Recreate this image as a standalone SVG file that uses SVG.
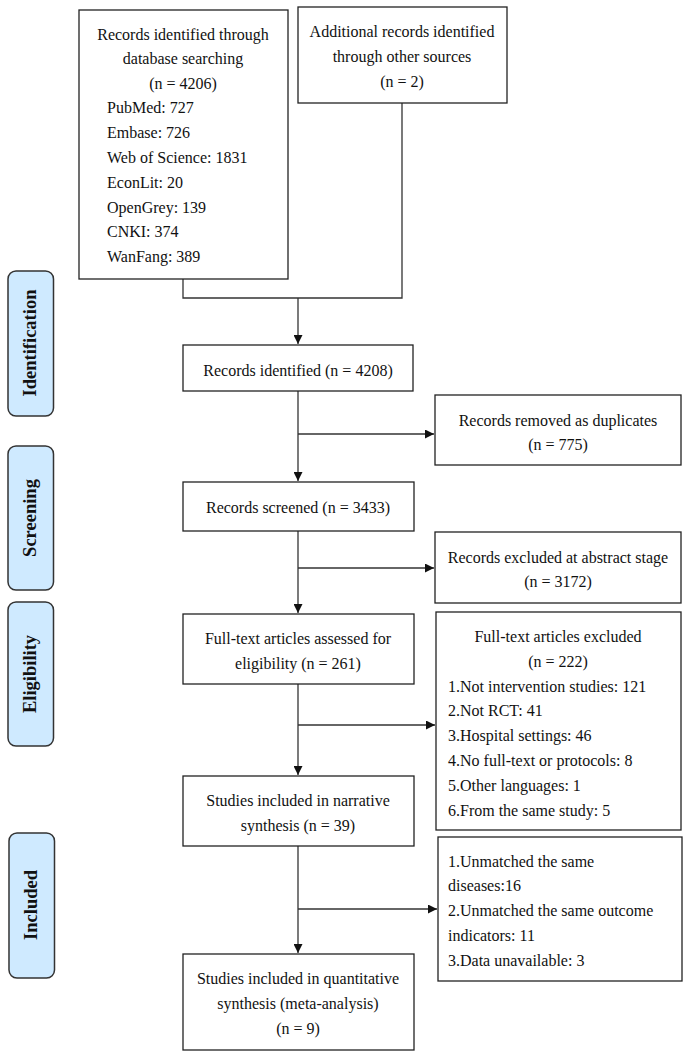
<svg xmlns="http://www.w3.org/2000/svg" width="685" height="1056" viewBox="0 0 685 1056">
<defs>
<style>
.box{fill:#fff;stroke:#222;stroke-width:1.3}
.stage{fill:#cfeaff;stroke:#333;stroke-width:1.5}
.t{font-family:"Liberation Serif","Times New Roman",serif;font-size:16px;fill:#111}
.c{text-anchor:middle}
.s{font-family:"Liberation Serif","Times New Roman",serif;font-size:18.5px;font-weight:bold;fill:#111;text-anchor:middle}
.ln{fill:none;stroke:#333;stroke-width:1.3}
</style>
<marker id="ah" viewBox="0 0 10 10" refX="10" refY="5" markerWidth="9" markerHeight="9" markerUnits="userSpaceOnUse" orient="auto">
<path d="M0,0 L10,5 L0,10 z" fill="#111"/>
</marker>
</defs>
<rect width="685" height="1056" fill="#fff"/>

<g id="stage-identification"><rect class="stage" x="8" y="271" width="45.5" height="145" rx="8"/><text class="s" transform="translate(36,343) rotate(-90)">Identification</text></g>
<g id="stage-screening"><rect class="stage" x="8" y="446" width="45.5" height="144" rx="8"/><text class="s" transform="translate(36,518) rotate(-90)">Screening</text></g>
<g id="stage-eligibility"><rect class="stage" x="8" y="602" width="45.5" height="144" rx="8"/><text class="s" transform="translate(36,674) rotate(-90)">Eligibility</text></g>
<g id="stage-included"><rect class="stage" x="9" y="833" width="45.5" height="145" rx="8"/><text class="s" transform="translate(37,905) rotate(-90)">Included</text></g>

<g id="connectors">
<path class="ln" d="M183,279 V298 H402 V103"/>
<path class="ln" d="M298,298 V344" marker-end="url(#ah)"/>
<path class="ln" d="M298,391 V481" marker-end="url(#ah)"/>
<path class="ln" d="M298,434 H434" marker-end="url(#ah)"/>
<path class="ln" d="M298,531 V613" marker-end="url(#ah)"/>
<path class="ln" d="M298,568 H434" marker-end="url(#ah)"/>
<path class="ln" d="M298,684 V775" marker-end="url(#ah)"/>
<path class="ln" d="M298,725 H435" marker-end="url(#ah)"/>
<path class="ln" d="M298,846 V953" marker-end="url(#ah)"/>
<path class="ln" d="M298,909 H437" marker-end="url(#ah)"/>
</g>

<g id="db-search">
<rect class="box" x="79" y="10" width="209" height="269"/>
<text class="t c" x="183" y="40">Records identified through</text>
<text class="t c" x="183" y="64">database searching</text>
<text class="t c" x="183" y="89">(n = 4206)</text>
<text class="t" x="107" y="113">PubMed: 727</text>
<text class="t" x="107" y="138">Embase: 726</text>
<text class="t" x="107" y="163">Web of Science: 1831</text>
<text class="t" x="107" y="188">EconLit: 20</text>
<text class="t" x="107" y="213">OpenGrey: 139</text>
<text class="t" x="107" y="237">CNKI: 374</text>
<text class="t" x="107" y="262">WanFang: 389</text>
</g>

<g id="other-sources">
<rect class="box" x="298" y="7" width="209" height="96"/>
<text class="t c" x="402" y="37">Additional records identified</text>
<text class="t c" x="402" y="62">through other sources</text>
<text class="t c" x="402" y="87">(n = 2)</text>
</g>

<g id="identified">
<rect class="box" x="183" y="345" width="230" height="46"/>
<text class="t c" x="298" y="376">Records identified (n = 4208)</text>
</g>

<g id="duplicates">
<rect class="box" x="435" y="395" width="246" height="70"/>
<text class="t c" x="558" y="426">Records removed as duplicates</text>
<text class="t c" x="558" y="450">(n = 775)</text>
</g>

<g id="screened">
<rect class="box" x="183" y="482" width="231" height="49"/>
<text class="t c" x="298" y="513">Records screened (n = 3433)</text>
</g>

<g id="abstract-excluded">
<rect class="box" x="435" y="532" width="246" height="71"/>
<text class="t c" x="558" y="563">Records excluded at abstract stage</text>
<text class="t c" x="558" y="587">(n = 3172)</text>
</g>

<g id="fulltext-assessed">
<rect class="box" x="183" y="614" width="231" height="70"/>
<text class="t c" x="298" y="644">Full-text articles assessed for</text>
<text class="t c" x="298" y="669">eligibility (n = 261)</text>
</g>

<g id="fulltext-excluded">
<rect class="box" x="436" y="612" width="245" height="218"/>
<text class="t c" x="558" y="642">Full-text articles excluded</text>
<text class="t c" x="558" y="667">(n = 222)</text>
<text class="t" x="448" y="692">1.Not intervention studies: 121</text>
<text class="t" x="448" y="716">2.Not RCT: 41</text>
<text class="t" x="448" y="741">3.Hospital settings: 46</text>
<text class="t" x="448" y="766">4.No full-text or protocols: 8</text>
<text class="t" x="448" y="791">5.Other languages: 1</text>
<text class="t" x="448" y="816">6.From the same study: 5</text>
</g>

<g id="narrative">
<rect class="box" x="183" y="776" width="231" height="70"/>
<text class="t c" x="298" y="806">Studies included in narrative</text>
<text class="t c" x="298" y="831">synthesis (n = 39)</text>
</g>

<g id="unmatched">
<rect class="box" x="438" y="837" width="244" height="144"/>
<text class="t" x="448" y="867">1.Unmatched the same</text>
<text class="t" x="448" y="891">diseases:16</text>
<text class="t" x="448" y="916">2.Unmatched the same outcome</text>
<text class="t" x="448" y="941">indicators: 11</text>
<text class="t" x="448" y="966">3.Data unavailable: 3</text>
</g>

<g id="quantitative">
<rect class="box" x="183" y="954" width="231" height="96"/>
<text class="t c" x="298" y="984">Studies included in quantitative</text>
<text class="t c" x="298" y="1009">synthesis (meta-analysis)</text>
<text class="t c" x="298" y="1034">(n = 9)</text>
</g>
</svg>
